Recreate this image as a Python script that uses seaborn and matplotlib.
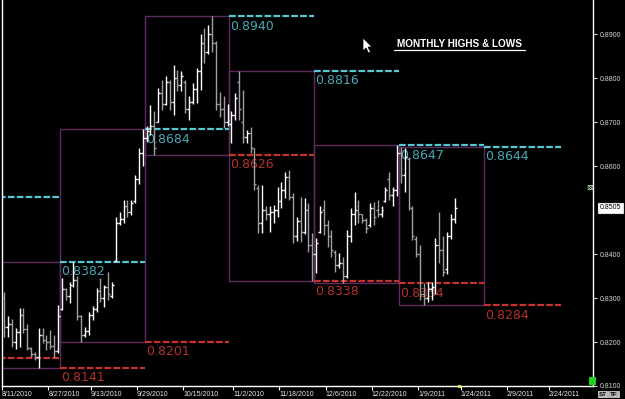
import numpy as np
import pandas as pd
import matplotlib
matplotlib.use('Agg')
import matplotlib.pyplot as plt
import seaborn as sns
from matplotlib.lines import Line2D
from matplotlib.patches import Rectangle, Polygon

# ---------------- data (daily OHLC bars, indexed by trading bar) ----------------
opens = [0.8300, 0.8235, 0.8240, 0.8200, 0.8222, 0.8262, 0.8230, 0.8186, 0.8172, 0.8165,
         0.8215, 0.8205, 0.8200, 0.8190, 0.8180,
         0.8275, 0.8320, 0.8305, 0.8330, 0.8340, 0.8260, 0.8215, 0.8225, 0.8262, 0.8275,
         0.8315, 0.8300, 0.8325, 0.8305, 0.8385, 0.8470, 0.8480, 0.8510, 0.8495, 0.8520,
         0.8570, 0.8630,
         0.8663, 0.8680, 0.8690, 0.8700, 0.8765, 0.8740, 0.8790, 0.8745, 0.8800, 0.8785,
         0.8790, 0.8730, 0.8745, 0.8775, 0.8815, 0.8880, 0.8860, 0.8900, 0.8880, 0.8740,
         0.8730, 0.8700,
         0.8695, 0.8715, 0.8790, 0.8700, 0.8665, 0.8675, 0.8640, 0.8550, 0.8470, 0.8500,
         0.8490, 0.8495, 0.8500, 0.8520, 0.8545, 0.8575, 0.8530, 0.8440, 0.8475, 0.8450,
         0.8500, 0.8420,
         0.8400, 0.8450, 0.8500, 0.8465, 0.8440, 0.8405, 0.8375, 0.8380, 0.8350, 0.8440,
         0.8490, 0.8510, 0.8490, 0.8478, 0.8465, 0.8505, 0.8500, 0.8490, 0.8520, 0.8570,
         0.8535, 0.8545,
         0.8630, 0.8580, 0.8615, 0.8505, 0.8435, 0.8400, 0.8310, 0.8300, 0.8320, 0.8325,
         0.8420, 0.8410, 0.8365, 0.8440, 0.8480]
highs = [0.8314, 0.8258, 0.8252, 0.8231, 0.8277, 0.8277, 0.8240, 0.8189, 0.8178, 0.8231,
         0.8231, 0.8215, 0.8227, 0.8215, 0.8284,
         0.8345, 0.8322, 0.8337, 0.8382, 0.8349, 0.8261, 0.8235, 0.8269, 0.8281, 0.8322,
         0.8345, 0.8330, 0.8360, 0.8337, 0.8485, 0.8496, 0.8523, 0.8523, 0.8523, 0.8580,
         0.8640, 0.8684,
         0.8690, 0.8739, 0.8724, 0.8777, 0.8796, 0.8804, 0.8795, 0.8830, 0.8818, 0.8815,
         0.8795, 0.8758, 0.8788, 0.8822, 0.8901, 0.8913, 0.8920, 0.8940, 0.8885, 0.8769,
         0.8758, 0.8740,
         0.8725, 0.8765, 0.8816, 0.8773, 0.8681, 0.8689, 0.8640, 0.8557, 0.8557, 0.8508,
         0.8508, 0.8511, 0.8553, 0.8564, 0.8587, 0.8591, 0.8538, 0.8485, 0.8530, 0.8527,
         0.8515, 0.8447,
         0.8436, 0.8508, 0.8523, 0.8477, 0.8455, 0.8409, 0.8402, 0.8394, 0.8455, 0.8504,
         0.8542, 0.8523, 0.8492, 0.8481, 0.8515, 0.8519, 0.8523, 0.8508, 0.8553, 0.8587,
         0.8553, 0.8647,
         0.8644, 0.8640, 0.8620, 0.8510, 0.8440, 0.8420, 0.8333, 0.8337, 0.8337, 0.8436,
         0.8496, 0.8440, 0.8451, 0.8492, 0.8527]
lows = [0.8212, 0.8212, 0.8189, 0.8185, 0.8189, 0.8220, 0.8182, 0.8167, 0.8159, 0.8141,
        0.8197, 0.8182, 0.8185, 0.8167, 0.8174,
        0.8273, 0.8296, 0.8288, 0.8326, 0.8250, 0.8201, 0.8212, 0.8216, 0.8250, 0.8269,
        0.8292, 0.8280, 0.8296, 0.8300, 0.8383, 0.8466, 0.8470, 0.8485, 0.8489, 0.8515,
        0.8560, 0.8600,
        0.8655, 0.8670, 0.8626, 0.8700, 0.8728, 0.8738, 0.8728, 0.8716, 0.8770, 0.8770,
        0.8720, 0.8705, 0.8740, 0.8743, 0.8773, 0.8834, 0.8855, 0.8860, 0.8728, 0.8712,
        0.8686, 0.8690,
        0.8652, 0.8705, 0.8705, 0.8652, 0.8652, 0.8629, 0.8546, 0.8447, 0.8447, 0.8477,
        0.8450, 0.8470, 0.8485, 0.8504, 0.8527, 0.8523, 0.8424, 0.8430, 0.8428, 0.8445,
        0.8405, 0.8338,
        0.8356, 0.8447, 0.8444, 0.8417, 0.8394, 0.8360, 0.8368, 0.8334, 0.8345, 0.8428,
        0.8466, 0.8470, 0.8470, 0.8447, 0.8462, 0.8466, 0.8485, 0.8485, 0.8519, 0.8523,
        0.8508, 0.8531,
        0.8561, 0.8542, 0.8500, 0.8432, 0.8394, 0.8295, 0.8284, 0.8292, 0.8295, 0.8310,
        0.8379, 0.8349, 0.8355, 0.8435, 0.8470]
closes = [0.8235, 0.8240, 0.8200, 0.8222, 0.8262, 0.8230, 0.8186, 0.8172, 0.8165, 0.8215,
          0.8205, 0.8200, 0.8190, 0.8180, 0.8258,
          0.8320, 0.8305, 0.8330, 0.8340, 0.8260, 0.8215, 0.8225, 0.8262, 0.8275, 0.8315,
          0.8300, 0.8325, 0.8310, 0.8330, 0.8470, 0.8480, 0.8510, 0.8495, 0.8515, 0.8570,
          0.8630, 0.8663,
          0.8680, 0.8690, 0.8640, 0.8765, 0.8740, 0.8790, 0.8745, 0.8800, 0.8785, 0.8805,
          0.8730, 0.8745, 0.8775, 0.8815, 0.8880, 0.8860, 0.8900, 0.8880, 0.8740, 0.8730,
          0.8700, 0.8705,
          0.8715, 0.8755, 0.8730, 0.8665, 0.8675, 0.8640, 0.8560, 0.8470, 0.8500, 0.8490,
          0.8495, 0.8500, 0.8520, 0.8545, 0.8575, 0.8530, 0.8440, 0.8475, 0.8450, 0.8500,
          0.8420, 0.8400,
          0.8425, 0.8495, 0.8465, 0.8440, 0.8410, 0.8375, 0.8380, 0.8350, 0.8440, 0.8490,
          0.8500, 0.8490, 0.8478, 0.8460, 0.8505, 0.8485, 0.8490, 0.8500, 0.8545, 0.8535,
          0.8545, 0.8630,
          0.8580, 0.8620, 0.8510, 0.8440, 0.8400, 0.8310, 0.8300, 0.8320, 0.8325, 0.8420,
          0.8410, 0.8360, 0.8440, 0.8480, 0.8505]

# monthly ranges (first / last bar index of each month; Jul & early Aug are off-chart)
month_names = ['Jul', 'Aug', 'Sep', 'Oct', 'Nov', 'Dec', 'Jan', 'Feb']
month_first = [-29, -7, 15, 37, 59, 81, 103, 125]
month_last = [-8, 14, 36, 58, 80, 102, 124, 144]
month_high = [0.8530, 0.8382, 0.8684, 0.8940, 0.8816, 0.8647, 0.8644]
month_low = [0.8164, 0.8141, 0.8201, 0.8626, 0.8338, 0.8334, 0.8284]

# axis ticks
tick_bars = [0, 12, 23, 35, 47, 60, 72, 84, 96, 108, 119, 131, 142]
tick_dates = ['8/11/2010', '8/27/2010', '9/13/2010', '9/29/2010', '10/15/2010', '11/2/2010',
              '11/18/2010', '12/6/2010', '12/22/2010', '1/9/2011', '1/24/2011', '2/9/2011',
              '2/24/2011']
price_ticks = [0.81, 0.82, 0.83, 0.84, 0.86, 0.87, 0.88, 0.89]
last_price = 0.8505
title = 'MONTHLY HIGHS & LOWS'

# ---------------- styling ----------------
sns.set_theme(style='dark', rc={'axes.facecolor': 'black', 'figure.facecolor': 'black',
                                'axes.grid': False})
plt.rcParams['font.family'] = ['Liberation Sans', 'DejaVu Sans']

W, H = 625, 399
fig = plt.figure(figsize=(W / 100, H / 100), dpi=100)
fig.patch.set_facecolor('black')
ax = fig.add_axes([2 / W, 13 / H, 591 / W, 386 / H])
ax.set_facecolor('black')

df = pd.DataFrame({'bar': np.arange(len(opens)), 'open': opens, 'high': highs,
                   'low': lows, 'close': closes})
df['dir'] = np.where(df['close'] >= df['open'], 'up', 'down')

CYAN = '#55c8d2'
CYAN_TXT = '#4aaab4'
RED = '#c8322d'
RED_TXT = '#b4302c'
PURPLE = '#5e2a60'

# monthly boxes
for i in range(1, 7):
    x0 = month_first[i] - 0.5
    x1 = month_last[i] + 0.5
    ax.add_patch(Rectangle((x0, month_low[i]), x1 - x0, month_high[i] - month_low[i],
                           fill=False, ec=PURPLE, lw=1.0, zorder=1))

# previous month's high / low projected over following month
for i in range(0, 7):
    x0 = month_first[i + 1] - 0.5
    x1 = month_last[i + 1] + 0.5
    for val, col, tcol in [(month_high[i], CYAN, CYAN_TXT), (month_low[i], RED, RED_TXT)]:
        ax.hlines(val, x0, x1, colors=col, lw=1.6, linestyles=(0, (3, 1)), zorder=2)
        t = ax.annotate(f'{val:.4f}', xy=(x0, val), xytext=(0.8, -2.5),
                        textcoords='offset points', ha='left', va='top',
                        fontsize=9, color=tcol, family='DejaVu Sans', zorder=3)
        t.set_clip_on(True)

# OHLC bars
palette = {'up': '#ffffff', 'down': '#a0a0a0'}
for d, sub in df.groupby('dir'):
    c = palette[d]
    ax.vlines(sub['bar'], sub['low'], sub['high'], colors=c, lw=1.0, zorder=5)
    ax.hlines(sub['open'], sub['bar'] - 0.5, sub['bar'], colors=c, lw=1.0, zorder=5)
    ax.hlines(sub['close'], sub['bar'], sub['bar'] + 0.5, colors=c, lw=1.0, zorder=5)

ax.set_xlim(-0.55, 152.9)
ax.set_ylim(0.8100, 0.89773)

# spines
for s in ['left', 'right', 'bottom']:
    ax.spines[s].set_visible(True)
    ax.spines[s].set_color('white')
    ax.spines[s].set_linewidth(1.0)
ax.spines['top'].set_visible(False)

# y axis on the right
ax.yaxis.tick_right()
ax.set_yticks(price_ticks)
ax.set_yticklabels([f'{v:.4f}' for v in price_ticks])
ax.tick_params(axis='y', which='both', right=True, left=False, length=3, width=0.8,
               color='#d0d0d0', labelcolor='#d8d8d8', labelsize=5, pad=2, direction='out')

# x axis
ax.set_xticks([b - 0.5 for b in tick_bars])
ax.set_xticklabels(tick_dates)
ax.tick_params(axis='x', which='both', bottom=True, length=3, width=0.8, color='white',
               labelcolor='#e8e8e8', labelsize=5, pad=0.5, direction='out')
for lab in ax.get_xticklabels():
    lab.set_ha('left')
ax.set_xlabel('')
ax.set_ylabel('')

# last price marker
ax.annotate(f'{last_price:.4f}', xy=(1.0, last_price), xycoords=('axes fraction', 'data'),
            xytext=(5, 0), textcoords='offset points', ha='left', va='center',
            fontsize=5, color='black', annotation_clip=False,
            bbox=dict(boxstyle='square,pad=0.25', fc='white', ec='#e0e0e0', lw=0.8))

# title with underline
fig.text(459.5 / W, 1 - 44 / H, title, ha='center', va='center', color='white',
         fontsize=7.2, fontweight='bold')
fig.add_artist(Line2D([394 / W, 525 / W], [1 - 50 / H, 1 - 50 / H], color='white', lw=0.9))

# mouse cursor
cur = np.array([[363, 38], [363, 51], [366, 48], [368.5, 53], [370.5, 52], [368, 47],
                [372, 47]])
fig.add_artist(Polygon(np.column_stack([cur[:, 0] / W, 1 - cur[:, 1] / H]), closed=True,
                       fc='white', ec='black', lw=0.5))

# small widgets
fig.add_artist(Rectangle((589 / W, 1 - 385 / H), 7 / W, 8 / H, fc='#1fd21f', ec='none'))
fig.add_artist(Rectangle((458 / W, 1 - 388 / H), 3 / W, 3 / H, fc='#e6e64a', ec='none'))
fig.text(589.5 / W, 1 - 187 / H, '\u22a0', color='#c8f0c8', fontsize=6, ha='center',
         va='center', family='DejaVu Sans')
for xx, s in [(603, 'ST'), (614, 'TF')]:
    fig.text(xx / W, 1 - 394 / H, s, color='black', fontsize=4.5, ha='center', va='center',
             fontweight='bold',
             bbox=dict(boxstyle='square,pad=0.15', fc='#b8b8b8', ec='#e0e0e0', lw=0.5))

fig.savefig('out.png', dpi=100, facecolor='black')
